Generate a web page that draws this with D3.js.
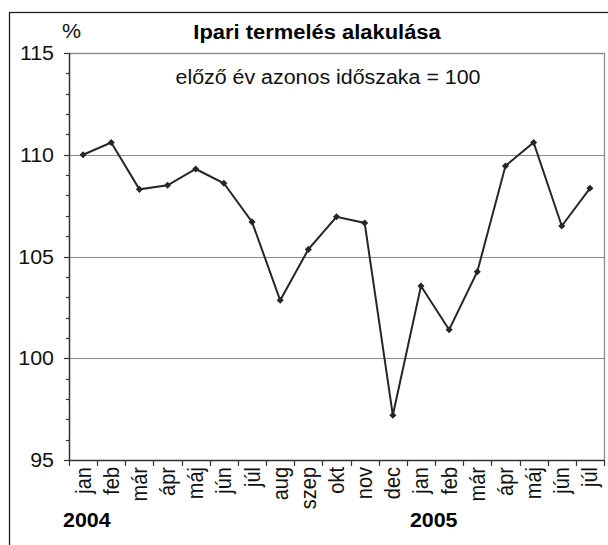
<!DOCTYPE html>
<html>
<head>
<meta charset="utf-8">
<script src="https://cdn.jsdelivr.net/npm/d3@7"></script>
<style>
  body { margin: 0; background: #fff; }
  svg { display: block; font-family: Arial, "Liberation Sans", sans-serif; }
</style>
</head>
<body>
<svg id="chart" width="608" height="545"></svg>
<script>
  // month labels (2004 jan .. 2005 jul)
  const months = ['jan', 'feb', 'már', 'ápr', 'máj', 'jún', 'júl', 'aug', 'szep', 'okt', 'nov', 'dec',
    'jan', 'feb', 'már', 'ápr', 'máj', 'jún', 'júl'];
  // previous year same period = 100
  const values = [110.0, 110.6, 108.3, 108.5, 109.3, 108.6, 106.7, 102.85, 105.35, 106.95, 106.65, 97.2,
    103.55, 101.4, 104.25, 109.45, 110.6, 106.5, 108.35];
  const yearLabels = ['2004', '2005'];
  const yearStart = [0, 12];
  const yTicks = [95, 100, 105, 110, 115];
  const gridValues = [100, 105, 110];

  const title = 'Ipari termelés alakulása';
  const subtitle = 'előző év azonos időszaka = 100';

  const plotL = 69, plotR = 604, plotT = 53, plotB = 460;
  const sx = 1.07; // the original text is a bit wider than normal Arial
  const fs = 20;

  const svg = d3.select('#chart');

  // outer frame (runs off the right/bottom edge)
  svg.append('rect')
    .attr('x', 9.5).attr('y', 12.5)
    .attr('width', 700).attr('height', 600)
    .style('fill', 'none')
    .style('stroke', '#222')
    .style('stroke-width', 1.3);

  const keys = d3.range(months.length);
  const x = d3.scaleBand().domain(keys).range([plotL, plotR]);
  const y = d3.scaleLinear().domain([95, 115]).range([plotB, plotT]);

  //// grid lines
  svg.selectAll('.grid')
    .data(gridValues)
    .enter().append('line')
    .attr('class', 'grid')
    .attr('x1', plotL).attr('x2', plotR)
    .attr('y1', d => Math.round(y(d)) + 0.5)
    .attr('y2', d => Math.round(y(d)) + 0.5)
    .style('stroke', '#8c8c8c')
    .style('stroke-width', 1);

  // plot border top + right (gray)
  svg.append('path')
    .attr('d', `M${plotL},${plotT + 0.5}H${plotR + 0.5}V${plotB}`)
    .style('fill', 'none')
    .style('stroke', '#8c8c8c')
    .style('stroke-width', 1.3);

  //// y axis
  const yMinor = d3.range(95, 116, 1);
  svg.selectAll('.ytick')
    .data(yMinor)
    .enter().append('line')
    .attr('class', 'ytick')
    .attr('x1', d => plotL - (d % 5 === 0 ? 5 : 3))
    .attr('x2', plotL)
    .attr('y1', d => Math.round(y(d)) + 0.5)
    .attr('y2', d => Math.round(y(d)) + 0.5)
    .style('stroke', '#333')
    .style('stroke-width', 1.2);

  svg.append('line')
    .attr('x1', plotL + 0.5).attr('x2', plotL + 0.5)
    .attr('y1', plotT).attr('y2', plotB)
    .style('stroke', '#333')
    .style('stroke-width', 1.5);

  svg.selectAll('.ylabel')
    .data(yTicks)
    .enter().append('text')
    .attr('class', 'ylabel')
    .attr('transform', d => `translate(${plotL - 15},${y(d)}) scale(${sx},1)`)
    .attr('dy', '0.35em')
    .style('text-anchor', 'end')
    .style('font-size', fs + 'px')
    .style('fill', '#111')
    .text(d => d);

  //// x axis
  svg.append('line')
    .attr('x1', plotL).attr('x2', plotR)
    .attr('y1', plotB + 0.5).attr('y2', plotB + 0.5)
    .style('stroke', '#333')
    .style('stroke-width', 1.5);

  const xTickPos = keys.map(k => x(k)).concat([plotR]);
  svg.selectAll('.xtick')
    .data(xTickPos)
    .enter().append('line')
    .attr('class', 'xtick')
    .attr('x1', d => Math.round(d) + 0.5)
    .attr('x2', d => Math.round(d) + 0.5)
    .attr('y1', plotB)
    .attr('y2', plotB + 6)
    .style('stroke', '#333')
    .style('stroke-width', 1.2);

  svg.selectAll('.month')
    .data(months)
    .enter().append('text')
    .attr('class', 'month')
    .attr('transform', (d, i) => `translate(${x(i) + x.bandwidth() / 2},${plotB + 7}) scale(${sx},1) rotate(-90)`)
    .attr('dy', '0.35em')
    .style('text-anchor', 'end')
    .style('font-size', fs + 'px')
    .style('fill', '#111')
    .text(d => d);

  svg.selectAll('.year')
    .data(yearLabels)
    .enter().append('text')
    .attr('class', 'year')
    .attr('transform', (d, i) => `translate(${x(yearStart[i]) + (i === 0 ? -6 : 3)},527) scale(${sx},1)`)
    .style('font-size', fs + 'px')
    .style('font-weight', 'bold')
    .style('fill', '#000')
    .text(d => d);

  //// titles
  svg.append('text')
    .attr('transform', `translate(62,38) scale(${sx},1)`)
    .style('font-size', fs + 'px')
    .style('fill', '#111')
    .text('%');

  svg.append('text')
    .attr('transform', `translate(317,39) scale(${sx},1)`)
    .style('text-anchor', 'middle')
    .style('font-size', '20.5px')
    .style('font-weight', 'bold')
    .style('fill', '#000')
    .text(title);

  svg.append('text')
    .attr('transform', `translate(328,84) scale(${sx},1)`)
    .style('text-anchor', 'middle')
    .style('font-size', fs + 'px')
    .style('fill', '#111')
    .text(subtitle);

  //// series line + markers
  const line = d3.line()
    .x((d, i) => x(i) + x.bandwidth() / 2)
    .y(d => y(d));

  svg.append('path')
    .datum(values)
    .attr('d', line)
    .style('fill', 'none')
    .style('stroke', '#262626')
    .style('stroke-width', 2);

  svg.selectAll('.marker')
    .data(values)
    .enter().append('path')
    .attr('class', 'marker')
    .attr('d', d3.symbol().type(d3.symbolDiamond2).size(32))
    .attr('transform', (d, i) => `translate(${x(i) + x.bandwidth() / 2},${y(d)})`)
    .style('fill', '#262626');
</script>
</body>
</html>
